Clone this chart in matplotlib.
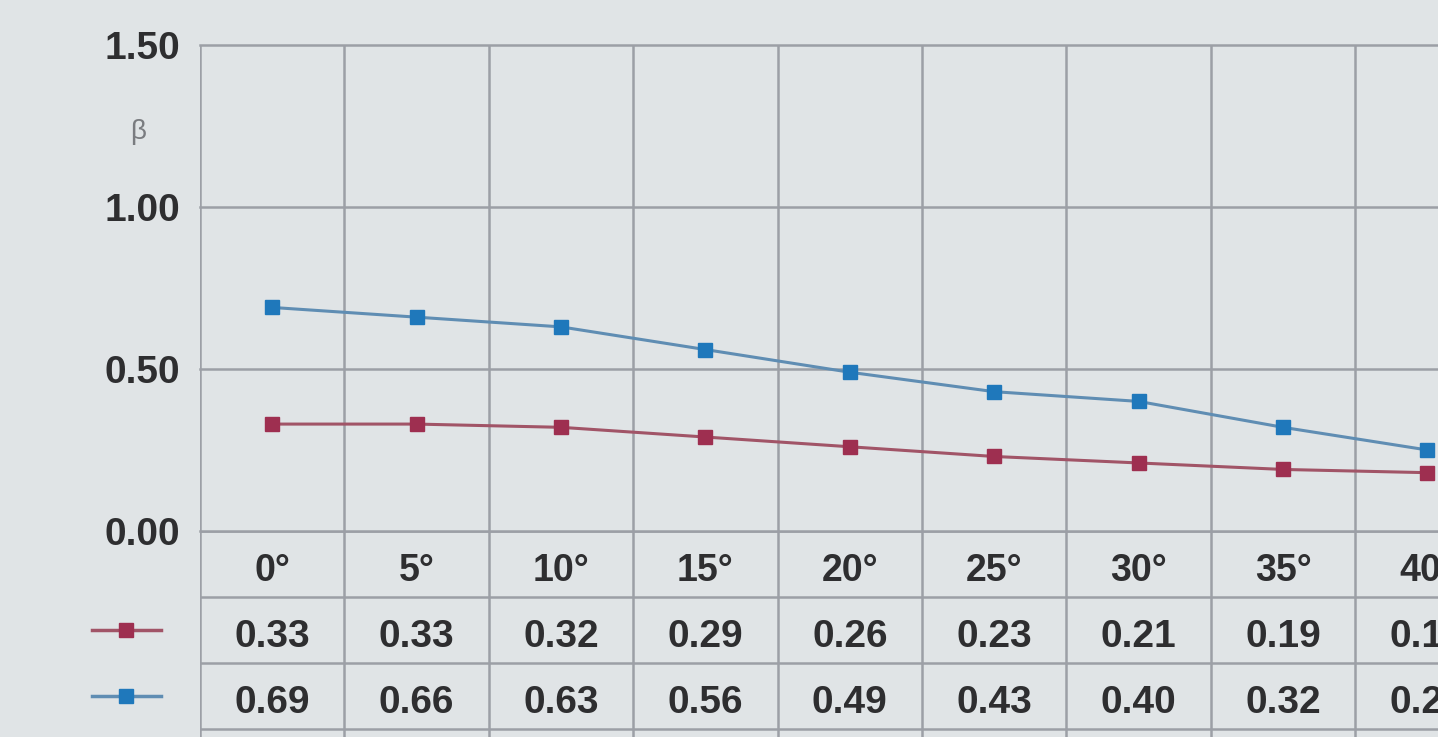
import matplotlib
matplotlib.use("Agg")
from matplotlib import pyplot as plt

angles = ["0°", "5°", "10°", "15°", "20°", "25°", "30°", "35°", "40°"]
red_values = [0.33, 0.33, 0.32, 0.29, 0.26, 0.23, 0.21, 0.19, 0.18]
blue_values = [0.69, 0.66, 0.63, 0.56, 0.49, 0.43, 0.40, 0.32, 0.25]
y_ticks = [0.0, 0.5, 1.0, 1.5]

bg = "#e0e4e6"
grid_c = "#9c9fa6"
red_line, red_mark = "#a15467", "#9e2f50"
blue_line, blue_mark = "#5f8db3", "#1f78bb"
text_c = "#2e2e30"

plt.rcParams['font.family'] = ['Liberation Sans', 'DejaVu Sans']

fig = plt.figure(figsize=(14.38, 7.37), dpi=100, facecolor=bg)
W, H = 1438, 737
left_px, top_px, zero_px = 200, 45, 531
col_px = 144.4
ax_w = 9 * col_px / W

# chart part
ax = fig.add_axes([left_px / W, (H - zero_px) / H, ax_w, (zero_px - top_px) / H])
ax.set_facecolor(bg)
x = list(range(len(angles)))
ax.plot(x, red_values, '-', color=red_line, lw=2.2, zorder=3)
ax.plot(x, red_values, 's', color=red_mark, ms=10, zorder=4, clip_on=False)
ax.plot(x, blue_values, '-', color=blue_line, lw=2.2, zorder=3)
ax.plot(x, blue_values, 's', color=blue_mark, ms=10, zorder=4, clip_on=False)
ax.set_xlim(-0.5, len(angles) - 0.5)
ax.set_ylim(0, 1.5)
for xb in [i - 0.5 for i in range(len(angles) + 1)]:
    ax.axvline(xb, color=grid_c, lw=1.8, zorder=1)
for yv in y_ticks:
    ax.axhline(yv, color=grid_c, lw=1.8, zorder=1, clip_on=False)
for s in ax.spines.values():
    s.set_visible(False)
ax.set_xticks([])
ax.set_yticks(y_ticks)
ax.set_yticklabels([f"{v:.2f}" for v in y_ticks], fontsize=28, fontweight='bold', color=text_c)
ax.tick_params(axis='y', length=0, pad=14)
ax.text(-0.93, 1.23, "β", fontsize=20, color="#7a7c80", ha='center', va='center')

# table part
row_px = 66
tab_top = zero_px
tab = fig.add_axes([left_px / W, 0, ax_w, (H - tab_top) / H])
tab.set_facecolor(bg)
tab.set_xlim(-0.5, len(angles) - 0.5)
tab.set_ylim((H - tab_top) / row_px, 0)
tab.axis('off')
for xb in [i - 0.5 for i in range(len(angles) + 1)]:
    tab.axvline(xb, color=grid_c, lw=1.8)
for r in range(4):
    tab.axhline(r, color=grid_c, lw=1.8)
for i, a in enumerate(angles):
    tab.text(i, 0.6, a, ha='center', va='center', fontsize=27, fontweight='bold', color=text_c)
    tab.text(i, 1.6, f"{red_values[i]:.2f}", ha='center', va='center', fontsize=28, fontweight='bold', color=text_c)
    tab.text(i, 2.6, f"{blue_values[i]:.2f}", ha='center', va='center', fontsize=28, fontweight='bold', color=text_c)
# legend keys
for r, lc, mc in [(1.5, red_line, red_mark), (2.5, blue_line, blue_mark)]:
    tab.plot([-1.25, -0.77], [r, r], '-', color=lc, lw=2.5, clip_on=False)
    tab.plot([-1.01], [r], 's', color=mc, ms=10, clip_on=False)

fig.savefig("out.png", dpi=100, facecolor=bg)
